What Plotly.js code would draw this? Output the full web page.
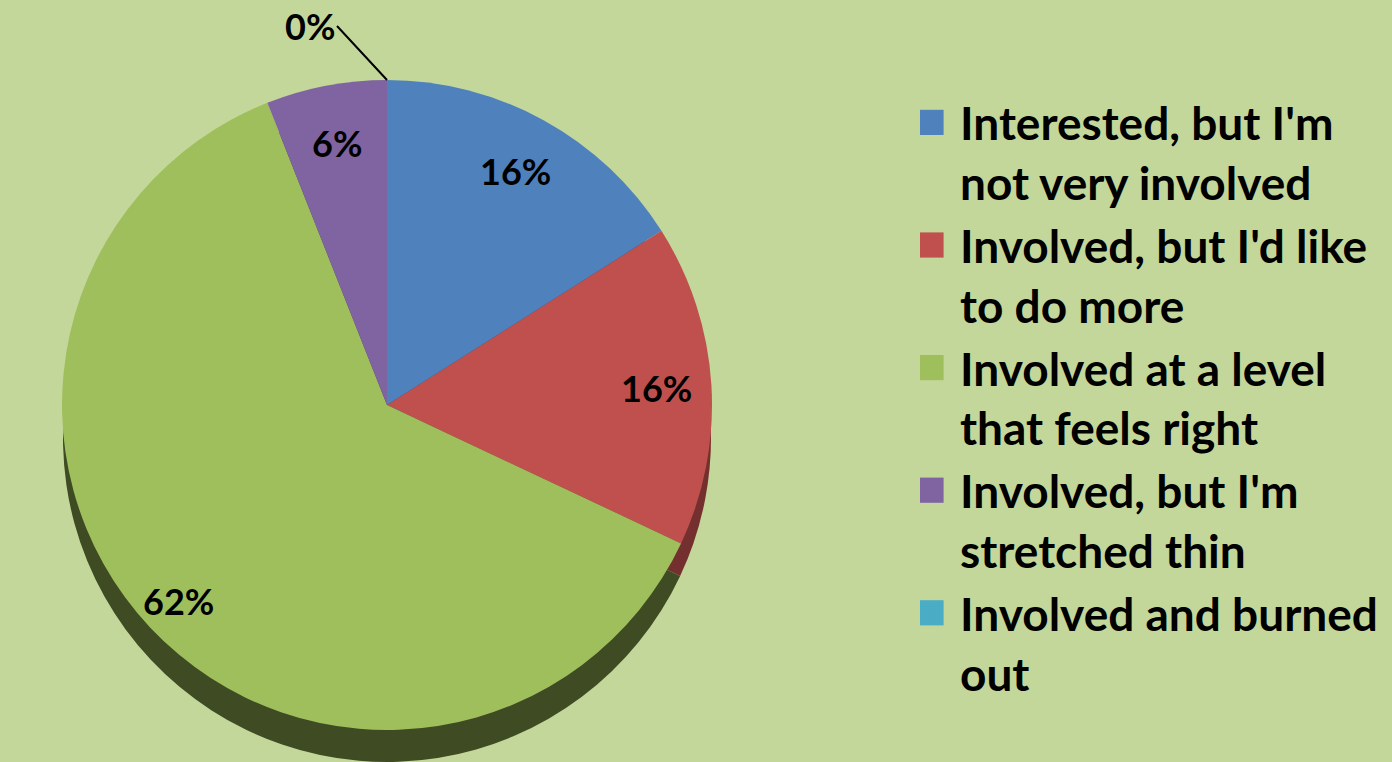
<!DOCTYPE html>
<html>
<head>
<meta charset="utf-8">
<script src="https://cdn.plot.ly/plotly-3.0.1.min.js"></script>
<style>
  html, body { margin: 0; padding: 0; background: #C4D79B; }
  #chart { width: 1392px; height: 762px; }
  /* larger legend swatches, placed like the reference */
  #chart path.legendpie { transform: translate(11px, 0px) scale(2.1); }
</style>
</head>
<body>
<div id="chart"></div>
<script>
// ---- data ----
const categories = [
  "Interested, but I'm<br>not very involved",
  "Involved, but I'd like<br>to do more",
  "Involved at a level<br>that feels right",
  "Involved, but I'm<br>stretched thin",
  "Involved and burned<br>out"
];
const values = [16, 16, 62, 6, 0];
const sliceColors = ["#4F81BD", "#C0504D", "#9FBF5D", "#8064A2", "#4BACC6"];
const shadowColors = ["#2F4D71", "#74302E", "#3F4B22", "#4D3C61", "#2D6777"];
const labelRadius = [0.82, 0.83, 0.88, 0.82, 0];   // fraction of radius for the % labels

const W = 1392, H = 762;
const cx = 387, cy = 405, r = 325, depth = 34;
const dom = {
  x: [(cx - r) / W, (cx + r) / W],
  y: [1 - (cy + r) / H, 1 - (cy - r) / H]
};
const shadowDom = {
  x: dom.x,
  y: [dom.y[0] - depth / H, dom.y[1] - depth / H]
};

const shadow = {
  type: "pie",
  values: values,
  labels: categories,
  sort: false,
  direction: "clockwise",
  rotation: 0,
  domain: shadowDom,
  marker: { colors: shadowColors, line: { width: 0 } },
  textinfo: "none",
  hoverinfo: "skip",
  showlegend: false
};

const main = {
  type: "pie",
  values: values,
  labels: categories,
  sort: false,
  direction: "clockwise",
  rotation: 0,
  domain: dom,
  marker: { colors: sliceColors, line: { width: 0 } },
  textinfo: "none",
  hoverinfo: "label+percent",
  showlegend: true
};

// percentage labels, placed along each slice's mid angle
const total = values.reduce((a, b) => a + b, 0);
const labelFont = { family: "Lato, 'Open Sans', sans-serif", size: 36, color: "#000000" };
const annotations = [];
let cum = 0;
values.forEach((v, i) => {
  const pct = Math.round(v / total * 100);
  const mid = (cum + v / 2) / total * 2 * Math.PI;
  cum += v;
  if (v > 0) {
    const px = cx + labelRadius[i] * r * Math.sin(mid);
    const py = cy - labelRadius[i] * r * Math.cos(mid);
    annotations.push({
      xref: "paper", yref: "paper", x: px / W, y: 1 - py / H,
      text: "<b>" + pct + "%</b>", font: labelFont, showarrow: false,
      xanchor: "center", yanchor: "middle"
    });
  } else {
    const px = cx + r * Math.sin(mid);
    const py = cy - r * Math.cos(mid);
    annotations.push({
      xref: "paper", yref: "paper", x: px / W, y: 1 - py / H,
      ax: -50, ay: -54,
      text: "<b>" + pct + "%</b>", font: labelFont,
      showarrow: true, arrowhead: 0, arrowwidth: 2, arrowcolor: "#000000",
      xanchor: "right", yanchor: "middle", standoff: 0,
      xshift: 0
    });
  }
});

const layout = {
  width: W, height: H,
  margin: { l: 0, r: 0, t: 0, b: 0 },
  paper_bgcolor: "#C4D79B",
  plot_bgcolor: "#C4D79B",
  showlegend: true,
  legend: {
    x: 920 / W, y: 1 - 86 / H, xanchor: "left", yanchor: "top",
    valign: "top",
    bgcolor: "rgba(0,0,0,0)",
    font: { family: "Lato, 'Open Sans', sans-serif", size: 46, weight: "bold", color: "#000000" },
    traceorder: "normal"
  },
  annotations: annotations
};

Plotly.newPlot("chart", [shadow, main], layout, { displayModeBar: false, staticPlot: true });
</script>
</body>
</html>
